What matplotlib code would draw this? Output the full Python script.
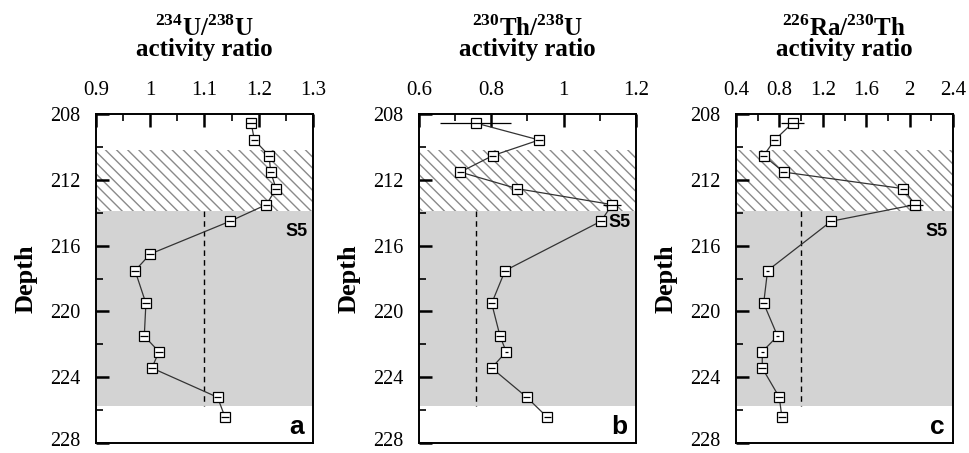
import matplotlib
matplotlib.use('Agg')
import matplotlib.pyplot as plt
import matplotlib.transforms as mtransforms
import numpy as np

plt.rcParams['font.family'] = 'Liberation Serif'
plt.rcParams['mathtext.fontset'] = 'custom'
plt.rcParams['mathtext.rm'] = 'Liberation Serif'
plt.rcParams['mathtext.bf'] = 'Liberation Serif:bold'
plt.rcParams['hatch.color'] = '#8a8a8a'
plt.rcParams['hatch.linewidth'] = 1.0

######################### data #########################
# sample depths (shared by all panels)
depth = [208.55, 209.58, 210.53, 211.53, 212.54, 213.51, 214.52, 216.51,
         217.52, 219.51, 221.50, 222.45, 223.44, 225.22, 226.44]

# 234U/238U (all depths)
u_ratio = [1.186, 1.192, 1.219, 1.222, 1.232, 1.214, 1.147, 1.000,
           0.972, 0.992, 0.989, 1.016, 1.003, 1.124, 1.138]
u_err = [0.009, 0.007, 0.007, 0.007, 0.007, 0.007, 0.007, 0.007,
         0.007, 0.007, 0.007, 0.007, 0.007, 0.007, 0.007]

# 230Th/238U (no sample at 216.51)
th_depth = [208.55, 209.58, 210.53, 211.53, 212.54, 213.51, 214.52,
            217.52, 219.51, 221.50, 222.45, 223.44, 225.22, 226.44]
th_ratio = [0.757, 0.932, 0.804, 0.714, 0.872, 1.134, 1.103,
            0.838, 0.801, 0.824, 0.841, 0.801, 0.898, 0.955]
th_err = [0.098, 0.010, 0.010, 0.010, 0.010, 0.025, 0.010,
          0.010, 0.010, 0.010, 0.004, 0.010, 0.010, 0.010]

# 226Ra/230Th (no sample at 216.51)
ra_depth = th_depth
ra_ratio = [0.921, 0.756, 0.655, 0.839, 1.943, 2.050, 1.277,
            0.691, 0.655, 0.783, 0.642, 0.642, 0.799, 0.823]
ra_err = [0.108, 0.035, 0.035, 0.035, 0.035, 0.075, 0.035,
          0.012, 0.035, 0.012, 0.012, 0.035, 0.035, 0.035]

# layers
hatch_top, hatch_bot = 210.2, 213.9
s5_top, s5_bot = 213.9, 225.75
# equilibrium / reference lines
ref_lines = [1.1, 0.757, 1.0]

panels = [
    (depth, u_ratio, u_err, r'$^{\mathbf{234}}\mathbf{U/}^{\mathbf{238}}\mathbf{U}$',
     (0.9, 1.3), 0.1, 'a'),
    (th_depth, th_ratio, th_err, r'$^{\mathbf{230}}\mathbf{Th/}^{\mathbf{238}}\mathbf{U}$',
     (0.6, 1.2), 0.2, 'b'),
    (ra_depth, ra_ratio, ra_err, r'$^{\mathbf{226}}\mathbf{Ra/}^{\mathbf{230}}\mathbf{Th}$',
     (0.4, 2.4), 0.4, 'c'),
]
#########################################################

fig = plt.figure(figsize=(9.69, 4.53), dpi=100)
lefts = [96 / 969, 419 / 969, 736 / 969]

for i, (yd, xv, xe, title, xlim, step, letter) in enumerate(panels):
    ax = fig.add_axes([lefts[i], 10 / 453, 217 / 969, 329 / 453])

    # shaded layers
    ax.axhspan(hatch_top, hatch_bot, facecolor='white', edgecolor='#8a8a8a',
               hatch='\\\\\\', linewidth=0, zorder=0)
    ax.axhspan(s5_top, s5_bot, facecolor='#d3d3d3', linewidth=0, zorder=0)
    ax.vlines(ref_lines[i], s5_top, s5_bot, colors='black',
              linestyles=(0, (4, 3)), linewidth=1.0, zorder=1)

    # profile
    ax.plot(xv, yd, color='#333333', linewidth=0.9, zorder=2)
    ax.plot(xv, yd, linestyle='none', marker='s', markersize=6.5,
            markerfacecolor='white', markeredgecolor='black',
            markeredgewidth=0.9, zorder=3)
    ax.errorbar(xv, yd, xerr=xe, fmt='none', ecolor='black',
                elinewidth=0.9, capsize=0, zorder=4)

    ax.set_xlim(*xlim)
    ax.set_ylim(228, 208)
    ax.set_xticks(np.arange(xlim[0], xlim[1] + step / 2, step))
    ax.set_xticks(np.arange(xlim[0], xlim[1] + step / 4, step / 2), minor=True)
    ax.set_xticklabels(['%g' % round(v, 2) for v in
                        np.arange(xlim[0], xlim[1] + step / 2, step)])
    ax.set_yticks(np.arange(208, 229, 4))
    ax.set_yticks(np.arange(210, 228, 4), minor=True)

    ax.xaxis.tick_top()
    ax.tick_params(axis='x', which='both', direction='in', top=True,
                   bottom=False, labeltop=True, labelbottom=False,
                   labelsize=15, pad=10)
    ax.tick_params(axis='y', which='both', direction='in', left=True,
                   right=False, labelsize=14.5, pad=11)
    ax.tick_params(which='major', length=9, width=1.8)
    ax.tick_params(which='minor', length=5, width=1.2)
    for sp in ax.spines.values():
        sp.set_linewidth(1.4)

    # lift the bottom depth label a little so it stays inside the figure
    lift = mtransforms.ScaledTranslation(0, 4 / 100, fig.dpi_scale_trans)
    last = ax.get_yticklabels()[-1]
    last.set_transform(last.get_transform() + lift)

    ax.set_ylabel('Depth', fontsize=19, fontweight='bold')
    ax.yaxis.set_label_coords(-0.27, 0.5)

    ax.text(0.5, 1.262, title, transform=ax.transAxes, ha='center',
            va='center', fontsize=18)
    ax.text(0.5, 1.195, 'activity ratio', transform=ax.transAxes,
            ha='center', va='center', fontsize=18, fontweight='bold')

    s5_y = 0.67 if letter == 'b' else 0.644
    ax.text(0.975, s5_y, 'S5', transform=ax.transAxes, ha='right',
            va='center', fontsize=13, fontweight='bold',
            family='Liberation Sans', zorder=5)
    ax.text(0.96, 0.05, letter, transform=ax.transAxes, ha='right',
            va='center', fontsize=19, fontweight='bold',
            family='Liberation Sans', zorder=5)

fig.savefig('out.png', dpi=100)
plt.close(fig)
